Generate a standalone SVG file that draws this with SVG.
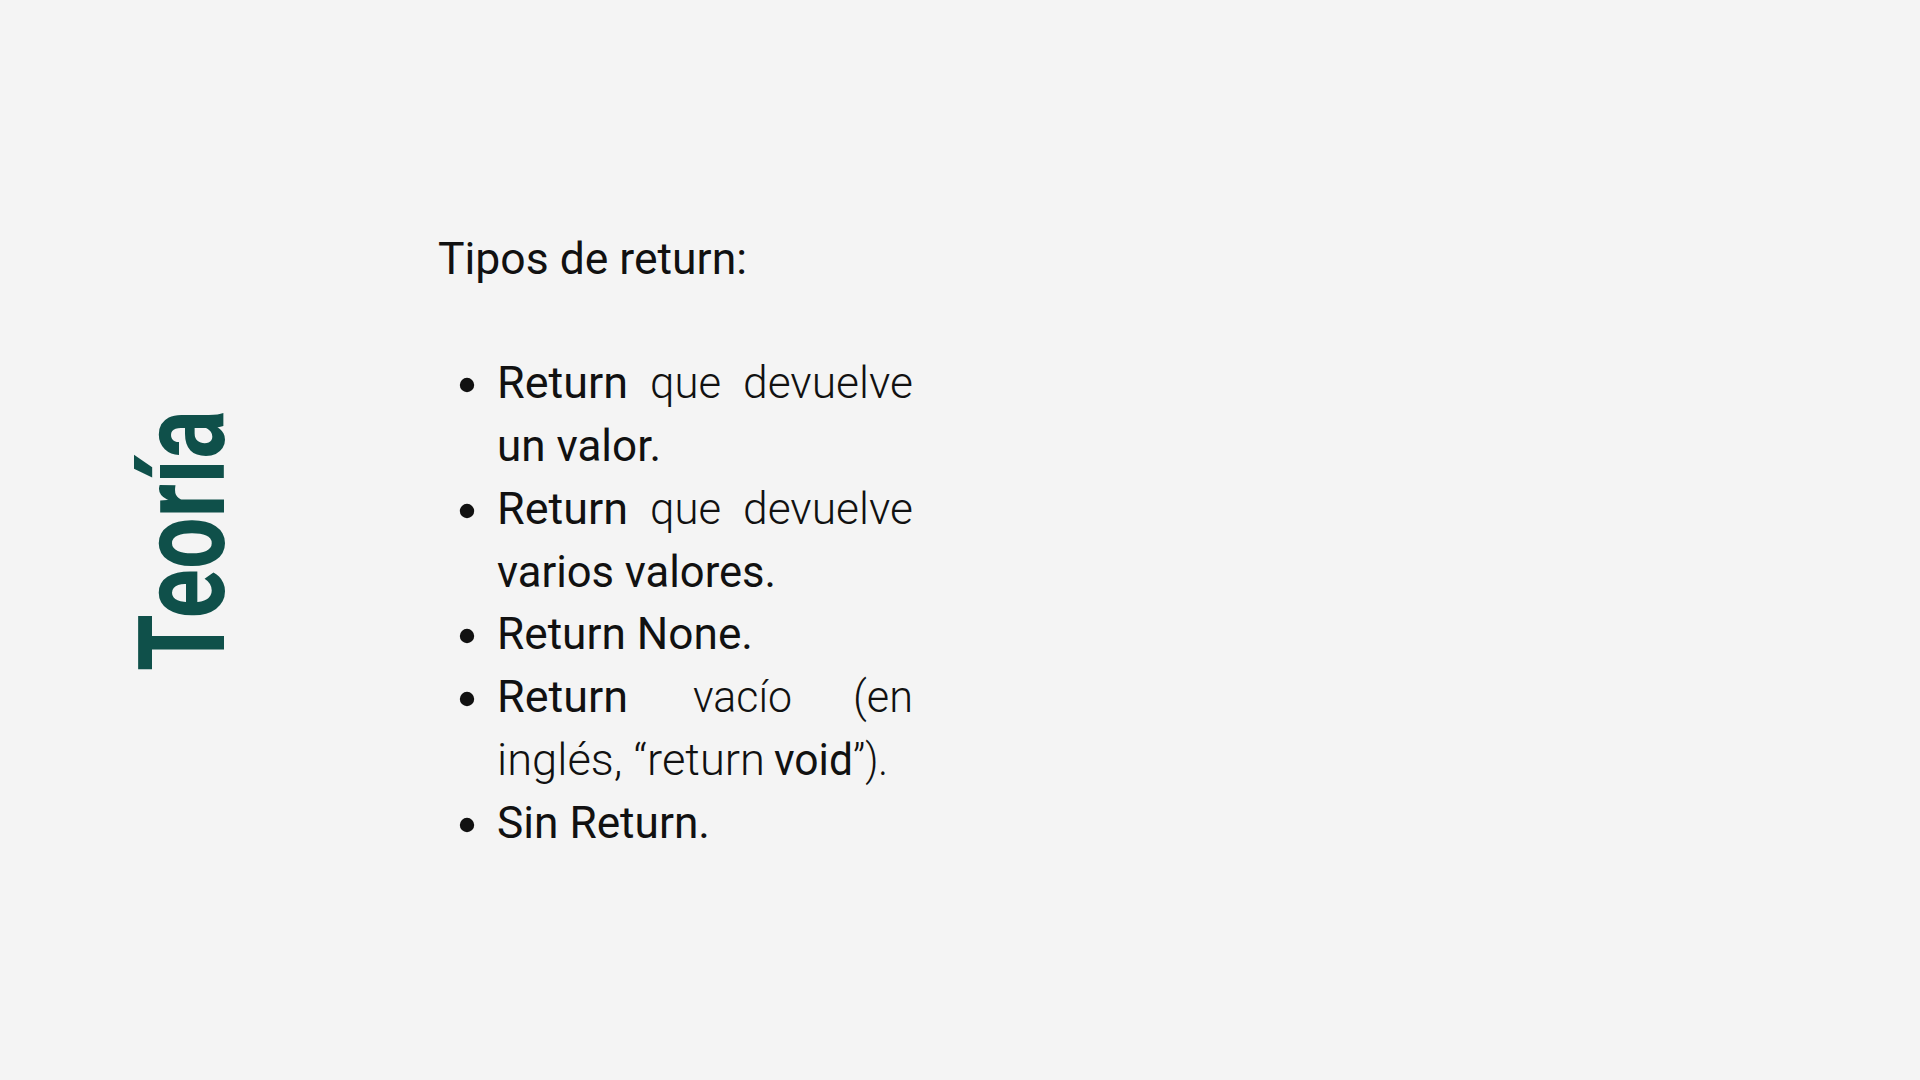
<svg xmlns="http://www.w3.org/2000/svg" width="1920" height="1080" viewBox="0 0 1920 1080">
<style>
.t{font-family:Roboto,"Liberation Sans",sans-serif;font-size:44px;fill:#111111;}
.r{font-weight:400;}
.l{font-weight:300;}
.b{fill:#111111;}
.title{font-family:Roboto,"Liberation Sans",sans-serif;font-weight:700;font-size:120px;fill:#0f504a;}
</style>
<rect x="0" y="0" width="1920" height="1080" fill="#f4f4f4"/>
<g id="teoria">
<text class="title" transform="translate(224,671) rotate(-90)" textLength="261" lengthAdjust="spacingAndGlyphs">Teoría</text>
</g>
<g id="heading">
<text class="t r" x="438" y="274" textLength="309" lengthAdjust="spacingAndGlyphs">Tipos de return:</text>
</g>
<g id="list">
<circle class="b" cx="467" cy="385" r="7.2"/>
<text class="t r" x="497" y="398" textLength="131" lengthAdjust="spacingAndGlyphs">Return</text>
<text class="t l" x="650" y="398" textLength="71" lengthAdjust="spacingAndGlyphs">que</text>
<text class="t l" x="743" y="398" textLength="170" lengthAdjust="spacingAndGlyphs">devuelve</text>
<text class="t r" x="497" y="461" textLength="164" lengthAdjust="spacingAndGlyphs">un valor.</text>

<circle class="b" cx="467" cy="511" r="7.2"/>
<text class="t r" x="497" y="524" textLength="131" lengthAdjust="spacingAndGlyphs">Return</text>
<text class="t l" x="650" y="524" textLength="71" lengthAdjust="spacingAndGlyphs">que</text>
<text class="t l" x="743" y="524" textLength="170" lengthAdjust="spacingAndGlyphs">devuelve</text>
<text class="t r" x="497" y="587" textLength="279" lengthAdjust="spacingAndGlyphs">varios valores.</text>

<circle class="b" cx="467" cy="636" r="7.2"/>
<text class="t r" x="497" y="649" textLength="256" lengthAdjust="spacingAndGlyphs">Return None.</text>

<circle class="b" cx="467" cy="699" r="7.2"/>
<text class="t r" x="497" y="712" textLength="131" lengthAdjust="spacingAndGlyphs">Return</text>
<text class="t l" x="693" y="712" textLength="99" lengthAdjust="spacingAndGlyphs">vacío</text>
<text class="t l" x="853" y="712" textLength="60" lengthAdjust="spacingAndGlyphs">(en</text>
<text class="t l" x="497" y="775" textLength="268" lengthAdjust="spacingAndGlyphs">inglés, “return</text>
<text class="t r" x="774" y="775" textLength="79" lengthAdjust="spacingAndGlyphs">void</text>
<text class="t l" x="853" y="775" textLength="35" lengthAdjust="spacingAndGlyphs">”).</text>

<circle class="b" cx="467" cy="825" r="7.2"/>
<text class="t r" x="497" y="838" textLength="213" lengthAdjust="spacingAndGlyphs">Sin Return.</text>
</g>
</svg>
